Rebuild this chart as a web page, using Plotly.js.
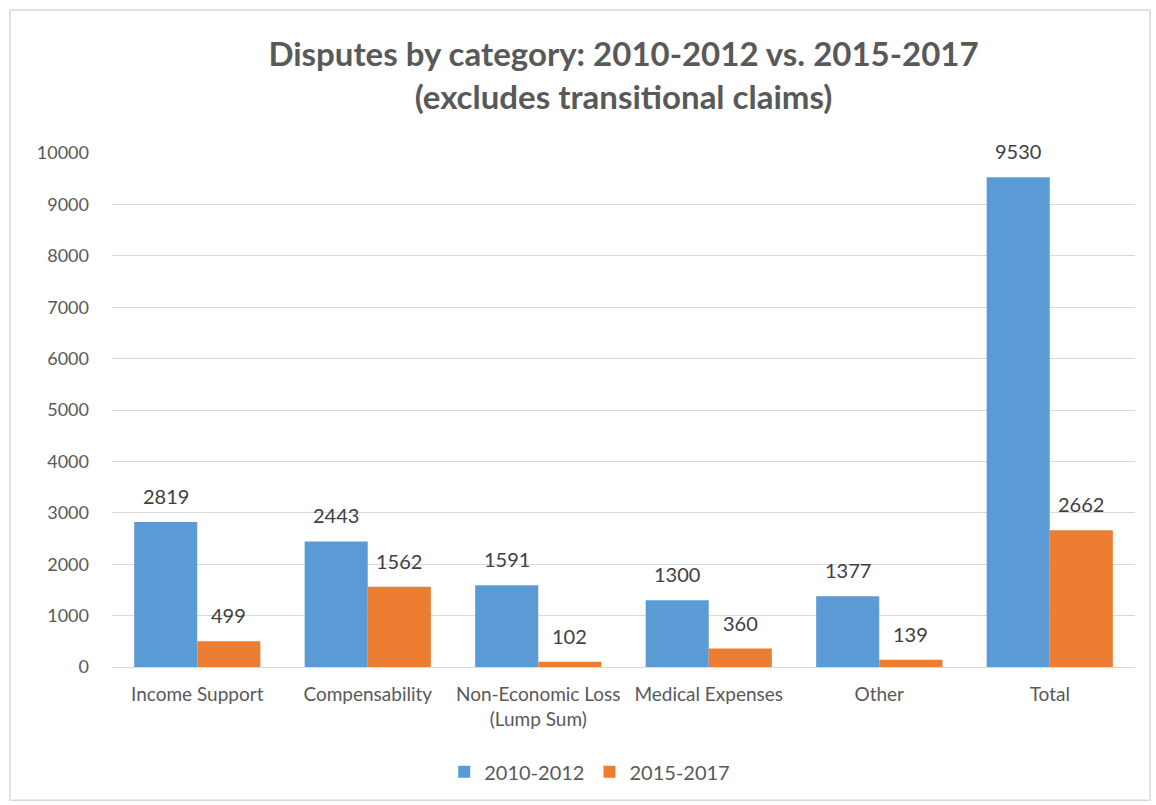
<!DOCTYPE html>
<html><head><meta charset="utf-8">
<script src="https://cdn.plot.ly/plotly-3.0.1.min.js"></script>
<style>html,body{margin:0;padding:0;background:#fff;}#chart{width:1156px;height:805px;}</style>
</head><body><div id="chart"></div>
<script>
const categories = ["Income Support", "Compensability", "Non-Economic Loss<br>(Lump Sum)", "Medical Expenses", "Other", "Total"];
const series2010 = [2819, 2443, 1591, 1300, 1377, 9530];
const series2015 = [499, 1562, 102, 360, 139, 2662];
const seriesNames = ["2010-2012", "2015-2017"];
const yTicks = [0,1000,2000,3000,4000,5000,6000,7000,8000,9000,10000];

const fontFam = "Lato, 'Open Sans', 'DejaVu Sans', sans-serif";
const mk = (name, vals, color) => ({
  type: 'bar', name: name, x: categories, y: vals,
  marker: {color: color}, hoverinfo: 'none'
});
const data = [mk(seriesNames[0], series2010, '#5B9BD5'), mk(seriesNames[1], series2015, '#ED7D31')];

const labelAnn = (vals, shift) => vals.map((v, i) => ({
  x: categories[i], y: v, xref: 'x', yref: 'y', text: String(v), showarrow: false,
  xshift: shift, yshift: 26, yanchor: 'middle', xanchor: 'center',
  font: {family: fontFam, size: 20, color: '#404040'}
}));

const layout = {
  width: 1156, height: 805,
  paper_bgcolor: '#fff', plot_bgcolor: '#fff',
  margin: {l: 112, r: 21, t: 153, b: 138},
  barmode: 'group', bargap: 0.26, bargroupgap: 0,
  title: {text: '<b>Disputes by category: 2010-2012 vs. 2015-2017<br>(excludes transitional claims)</b>',
    x: 0.5, xref: 'paper', xanchor: 'center', yref: 'container', y: 0.9175, yanchor: 'middle',
    font: {family: fontFam, size: 33, color: '#595959'}},
  font: {family: fontFam, color: '#595959'},
  xaxis: {tickfont: {family: fontFam, size: 19, color: '#595959'}, showline: true, linecolor: '#d9d9d9', linewidth: 1, ticks: '', ticklabelstandoff: 10, fixedrange: true},
  yaxis: {range: [0, 10000], tickvals: yTicks, ticktext: yTicks.map(String), tickfont: {family: fontFam, size: 18, color: '#595959'},
    showgrid: true, gridcolor: '#d9d9d9', gridwidth: 1, zeroline: false, ticks: '', ticklabelstandoff: 22, showline: false},
  legend: {orientation: 'h', x: 0.467, xanchor: 'center', y: -0.204, yanchor: 'middle',
    font: {family: fontFam, size: 20, color: '#595959'}},
  annotations: labelAnn(series2010, -31.5).concat(labelAnn(series2015, 31.5)),
  shapes: [{type: 'rect', xref: 'paper', yref: 'paper', x0: -0.0997, x1: 1.0147, y0: -0.259, y1: 1.278,
    line: {color: '#d9d9d9', width: 1.5}, fillcolor: 'rgba(0,0,0,0)'}]
};
Plotly.newPlot('chart', data, layout, {displayModeBar: false, staticPlot: true});
</script></body></html>
